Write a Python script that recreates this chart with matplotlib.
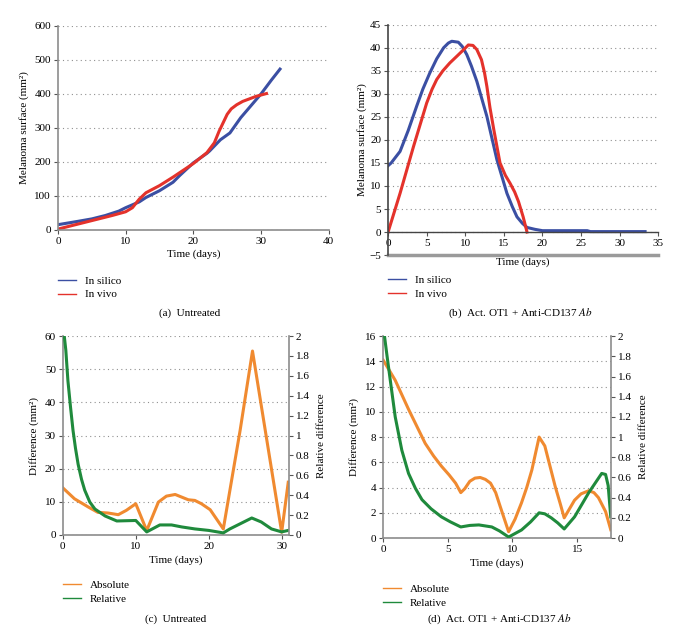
import matplotlib
matplotlib.use("Agg")
import matplotlib.pyplot as plt
from matplotlib.ticker import FuncFormatter

plt.rcParams["font.family"] = ["Liberation Serif", "DejaVu Serif"]
plt.rcParams["mathtext.fontset"] = "stix"
plt.rcParams["font.size"] = 8

BLUE = "#3b4fa3"
RED = "#e4322b"
ORANGE = "#f08a30"
GREEN = "#1f8a3c"
SPINE = "#8c8c8c"

# (a) untreated growth
a_silico_t = [0, 1.5, 3, 5, 7, 9, 10, 12, 13, 15, 17, 18, 20, 22, 22.4, 24, 25.4, 27, 28.5, 30, 31.5, 32.8]
a_silico_y = [15, 20, 25, 32, 42, 55, 65, 82, 95, 115, 140, 160, 197, 225, 232, 265, 285, 330, 365, 400, 440, 473]
a_vivo_t = [0, 2, 4, 6, 8, 10, 11, 12, 13, 15, 17, 20, 22, 23.1, 23.8, 24.4, 25, 25.6, 26.4, 27.3, 29.3, 30.8]
a_vivo_y = [2, 12, 22, 32, 42, 53, 65, 90, 109, 130, 155, 195, 227, 256, 290, 315, 340, 356, 368, 378, 393, 401]

# (b) Act. OT1 + Anti-CD137 Ab
b_silico_t = [0, 0.4, 1.55, 2.6, 3.7, 4.5, 5.4, 6.3, 7.2, 7.8, 8.25, 9.1, 9.6, 10.2, 10.8, 11.5, 12.8, 14.1, 15.4, 16.1, 16.7, 17.4, 18, 19, 20, 25.8, 26.2, 33.3]
b_silico_y = [14.4, 15.0, 17.5, 22.0, 27.3, 31.0, 34.5, 37.6, 40.0, 41.0, 41.4, 41.2, 40.3, 38.5, 36.0, 32.7, 25.1, 15.7, 8.4, 5.5, 3.3, 1.9, 1.0, 0.6, 0.3, 0.3, 0.1, 0.1]
b_vivo_t = [0, 1.55, 3.3, 5.0, 5.7, 6.3, 7.1, 8.0, 9.0, 9.8, 10.4, 11.0, 11.5, 12.1, 12.5, 12.8, 13.2, 13.7, 14.5, 15.2, 15.8, 16.4, 16.9, 17.5, 18.0]
b_vivo_y = [0, 8.4, 18.6, 28.0, 31.0, 33.1, 35.0, 36.7, 38.3, 39.6, 40.6, 40.5, 39.6, 37.4, 34.5, 31.6, 27.0, 22.2, 15.0, 12.3, 10.6, 8.7, 6.6, 3.3, 0]

# (c) untreated differences
c_abs_t = [0, 1.6, 3.5, 4.8, 6.2, 7.6, 8.7, 10, 11.5, 13.1, 14.2, 15.4, 16.3, 17.2, 18.1, 19, 20.2, 22, 24.3, 26, 27.9, 30, 30.9]
c_abs_y = [14.2, 10.9, 8.4, 6.8, 6.6, 6.1, 7.4, 9.4, 1.3, 9.9, 11.7, 12.2, 11.4, 10.6, 10.4, 9.4, 7.6, 1.8, 31.5, 55.5, 29.5, 0.8, 15.9]
c_rel_t = [0.2, 0.41, 0.7, 1.05, 1.4, 1.74, 2.1, 2.56, 3.0, 3.7, 4.4, 5.8, 7.4, 10, 11.5, 13.3, 14.9, 16.3, 18.1, 20, 22, 22.9, 25.9, 27.2, 28.6, 30, 30.9]
c_rel_y = [2.0, 1.86, 1.55, 1.29, 1.05, 0.87, 0.71, 0.56, 0.45, 0.33, 0.26, 0.19, 0.14, 0.145, 0.03, 0.10, 0.10, 0.08, 0.06, 0.045, 0.02, 0.06, 0.17, 0.13, 0.06, 0.03, 0.045]

# (d) Act. OT1 + Anti-CD137 Ab differences
d_abs_t = [0, 0.93, 1.96, 3.25, 3.9, 4.5, 5.1, 5.6, 6.0, 6.3, 6.7, 7.1, 7.5, 7.9, 8.3, 8.7, 9.05, 9.7, 10.2, 10.7, 11.1, 11.5, 11.8, 12.06, 12.5, 12.9, 13.3, 13.7, 14.0, 14.4, 14.8, 15.3, 15.9, 16.3, 16.65, 17.2, 17.6]
d_abs_y = [14.1, 12.5, 10.2, 7.5, 6.5, 5.7, 5.0, 4.35, 3.6, 3.9, 4.5, 4.75, 4.8, 4.65, 4.35, 3.6, 2.5, 0.5, 1.5, 2.8, 4.0, 5.4, 6.8, 8.0, 7.3, 5.7, 4.1, 2.7, 1.6, 2.3, 3.0, 3.5, 3.75, 3.6, 3.2, 2.1, 0.66]
d_rel_t = [0.1, 0.3, 0.54, 0.93, 1.44, 1.96, 2.5, 3.0, 3.7, 4.5, 5.2, 6.0, 6.7, 7.4, 8.4, 9.0, 9.7, 10.7, 11.4, 12.06, 12.5, 13.0, 13.5, 14.0, 14.8, 15.9, 16.9, 17.2, 17.4, 17.6]
d_rel_y = [2.0, 1.8, 1.57, 1.2, 0.87, 0.64, 0.49, 0.38, 0.29, 0.21, 0.16, 0.11, 0.125, 0.13, 0.11, 0.07, 0.01, 0.08, 0.16, 0.25, 0.24, 0.2, 0.15, 0.09, 0.21, 0.45, 0.64, 0.63, 0.52, 0.21]

fig = plt.figure(figsize=(6.98, 6.33), dpi=100)


def style(ax):
    for side in ["top", "right"]:
        ax.spines[side].set_visible(False)
    for side in ["left", "bottom"]:
        ax.spines[side].set_color(SPINE)
        ax.spines[side].set_linewidth(1.2)
    ax.tick_params(length=3, width=0.8, color="#555555", pad=2)
    ax.yaxis.grid(True, linestyle=(0, (1, 3)), color="#909090", linewidth=0.8)
    ax.set_axisbelow(True)


def clean(v, pos):
    return f"{v:g}".replace("-", "\u2212")


def legend(ax, handles, labels, x, y):
    leg = ax.legend(handles, labels, loc="upper left", bbox_to_anchor=(x, y),
                    bbox_transform=fig.transFigure, frameon=False, handlelength=1.6,
                    handletextpad=0.8, labelspacing=0.35, borderaxespad=0, borderpad=0,
                    fontsize=8)
    for h in leg.get_lines():
        h.set_linewidth(1.0)


def right_axis(ax, t, v):
    ax2 = ax.twinx()
    for side in ["top", "left", "bottom"]:
        ax2.spines[side].set_visible(False)
    ax2.spines["right"].set_color(SPINE)
    ax2.spines["right"].set_linewidth(1.2)
    ax2.tick_params(length=3, width=0.8, color="#555555", pad=2)
    line, = ax2.plot(t, v, color=GREEN, lw=2.2)
    ax2.set_ylim(0, 2)
    ax2.set_yticks([i / 5 for i in range(11)])
    ax2.yaxis.set_major_formatter(FuncFormatter(clean))
    ax2.set_ylabel("Relative difference", labelpad=5)
    return line


# (a)
ax = fig.add_axes([0.083, 0.637, 0.388, 0.322])
style(ax)
l1, = ax.plot(a_silico_t, a_silico_y, color=BLUE, lw=2.2)
l2, = ax.plot(a_vivo_t, a_vivo_y, color=RED, lw=2.2)
ax.set_xlim(0, 40)
ax.set_ylim(0, 600)
ax.set_xticks(range(0, 41, 10))
ax.set_yticks(range(0, 601, 100))
ax.set_xlabel("Time (days)", labelpad=3)
ax.set_ylabel("Melanoma surface (mm\u00b2)", labelpad=4)
legend(ax, [l1, l2], ["In silico", "In vivo"], 0.083, 0.564)
fig.text(0.272, 0.505, "(a)  Untreated", ha="center", va="center")

# (b)
ax = fig.add_axes([0.556, 0.597, 0.387, 0.364])
style(ax)
l1, = ax.plot(b_silico_t, b_silico_y, color=BLUE, lw=2.2)
l2, = ax.plot(b_vivo_t, b_vivo_y, color=RED, lw=2.2)
ax.set_xlim(0, 35)
ax.set_ylim(-5, 45)
ax.set_xticks(range(0, 36, 5))
ax.set_yticks(range(-5, 46, 5))
ax.yaxis.set_major_formatter(FuncFormatter(clean))
ax.spines["bottom"].set_position(("data", 0))
ax.spines["bottom"].set_color("#444444")
ax.spines["bottom"].set_linewidth(1.0)
ax.spines["left"].set_color("#444444")
ax.axhline(-5, color="#9a9a9a", lw=2.5, clip_on=False)
ax.set_ylabel("Melanoma surface (mm\u00b2)", labelpad=2)
ax.set_xlabel("Time (days)")
ax.xaxis.set_label_coords(0.5, -0.008)
legend(ax, [l1, l2], ["In silico", "In vivo"], 0.556, 0.565)
fig.text(0.745, 0.505, "(b)  Act. OT1 + Anti-CD137 $\\mathit{Ab}$", ha="center", va="center")

# (c)
ax = fig.add_axes([0.090, 0.155, 0.324, 0.314])
style(ax)
la, = ax.plot(c_abs_t, c_abs_y, color=ORANGE, lw=2.2)
ax.set_xlim(0, 31)
ax.set_ylim(0, 60)
ax.set_xticks(range(0, 31, 10))
ax.set_yticks(range(0, 61, 10))
ax.set_xlabel("Time (days)", labelpad=3)
ax.set_ylabel("Difference (mm\u00b2)", labelpad=4)
lr = right_axis(ax, c_rel_t, c_rel_y)
legend(ax, [la, lr], ["Absolute", "Relative"], 0.090, 0.083)
fig.text(0.252, 0.022, "(c)  Untreated", ha="center", va="center")

# (d)
ax = fig.add_axes([0.549, 0.150, 0.326, 0.319])
style(ax)
la, = ax.plot(d_abs_t, d_abs_y, color=ORANGE, lw=2.2)
ax.set_xlim(0, 17.6)
ax.set_ylim(0, 16)
ax.set_xticks(range(0, 16, 5))
ax.set_yticks(range(0, 17, 2))
ax.set_xlabel("Time (days)", labelpad=3)
ax.set_ylabel("Difference (mm\u00b2)", labelpad=4)
lr = right_axis(ax, d_rel_t, d_rel_y)
legend(ax, [la, lr], ["Absolute", "Relative"], 0.549, 0.077)
fig.text(0.715, 0.022, "(d)  Act. OT1 + Anti-CD137 $\\mathit{Ab}$", ha="center", va="center")

fig.savefig("out.png", dpi=100)
